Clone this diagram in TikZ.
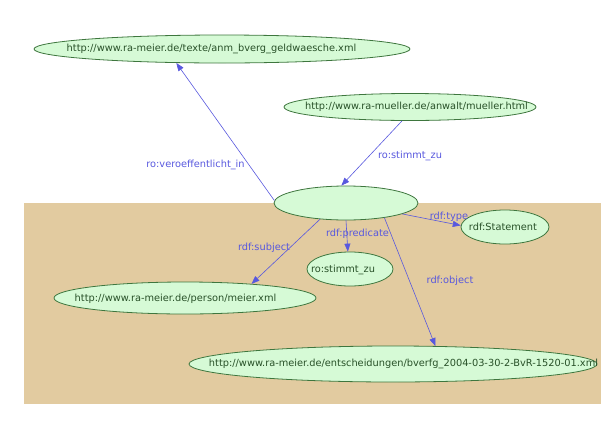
\documentclass[tikz,border=0pt]{standalone}
\usepackage{fontspec}
\setmainfont{DejaVu Sans}
\usetikzlibrary{shapes.geometric,arrows.meta}
\definecolor{ground}{RGB}{226,203,160}
\definecolor{nodefill}{RGB}{214,250,214}
\definecolor{nodeline}{RGB}{62,118,62}
\definecolor{nodetext}{RGB}{40,80,40}
\definecolor{edgeblue}{RGB}{88,88,222}
\tikzset{
  res/.style={ellipse, draw=nodeline, fill=nodefill, line width=0.8pt, inner sep=0pt},
  restext/.style={text=nodetext, font=\fontsize{9.8}{11}\selectfont, inner sep=0pt},
  prop/.style={draw=edgeblue, line width=0.6pt, -{Triangle[length=8pt,width=6pt]}},
  proptext/.style={text=edgeblue, font=\fontsize{9.8}{11}\selectfont, inner sep=0pt}
}
\begin{document}
\begin{tikzpicture}[x=1pt,y=-1pt]
\useasboundingbox (0,0) rectangle (611,429);
\fill[ground] (24,203) rectangle (601,404);

% resources
\node[res, minimum width=376, minimum height=28] (top) at (222,49) {};
\node[restext] (ttop) at (211.5,49) {http://www.ra-meier.de/texte/anm\_bverg\_geldwaesche.xml};
\node[res, minimum width=252, minimum height=27] (mueller) at (410,107) {};
\node[restext] (tmueller) at (416.5,107) {http://www.ra-mueller.de/anwalt/mueller.html};
\node[res, minimum width=144, minimum height=34] (blank) at (346,203) {};
\node[res, minimum width=88, minimum height=34] (stmt) at (505,227) {};
\node[restext] (tstmt) at (503,227) {rdf:Statement};
\node[res, minimum width=86, minimum height=34] (stimmt) at (350,269) {};
\node[restext] (tstimmt) at (343,270) {ro:stimmt\_zu};
\node[res, minimum width=262, minimum height=32] (meier) at (185,298) {};
\node[restext] (tmeier) at (175.5,299) {http://www.ra-meier.de/person/meier.xml};
\node[res, minimum width=408, minimum height=36] (ent) at (393,364) {};
\node[restext] (tent) at (403.5,364) {http://www.ra-meier.de/entscheidungen/bverfg\_2004-03-30-2-BvR-1520-01.xml};

% statements
\draw[prop] (blank.178) -- (top.197);
\draw[prop] (mueller.240) -- (blank.105);
\draw[prop] (blank.-11) -- (stmt.178);
\draw[prop] (blank.270) -- (stimmt.97);
\draw[prop] (blank.212) -- (meier.12);
\draw[prop] (blank.-21) -- (ent.23);

% property labels
\node[proptext] (l1) at (195.5,165) {ro:veroeffentlicht\_in};
\node[proptext] (l2) at (410,156) {ro:stimmt\_zu};
\node[proptext] (l3) at (449,217) {rdf:type};
\node[proptext] (l4) at (357.5,234) {rdf:predicate};
\node[proptext] (l5) at (264,248) {rdf:subject};
\node[proptext] (l6) at (450,281) {rdf:object};
\end{tikzpicture}
\end{document}
